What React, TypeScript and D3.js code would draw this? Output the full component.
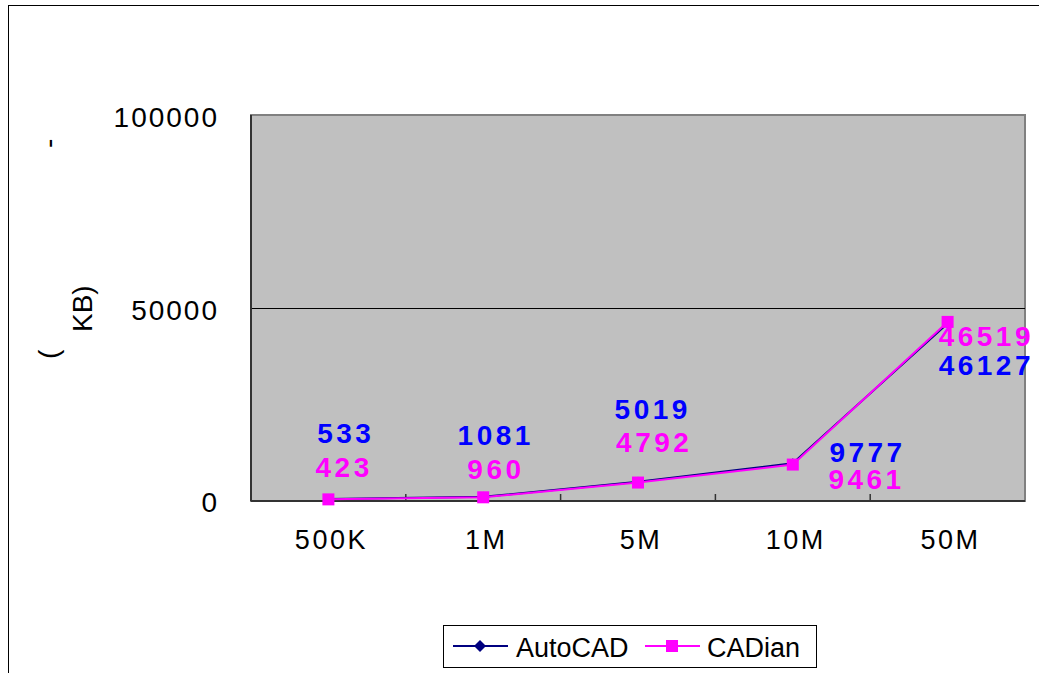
import React from "react";
import * as d3 from "d3";

const categories = ["500K", "1M", "5M", "10M", "50M"];
const autocadValues = [533, 1081, 5019, 9777, 46127];
const cadianValues = [423, 960, 4792, 9461, 46519];
const yTicks = [0, 50000, 100000];
const seriesNames = ["AutoCAD", "CADian"];

// label placement offsets relative to data point (dx, dy of baseline)
const autocadLabelOffsets: [number, number][] = [[15.6, -56], [10.8, -52], [13, -63], [73, -1.4], [37, 51.6]];
const cadianLabelOffsets: [number, number][] = [[14, -22], [11, -18], [14.5, -31], [72, 24], [37, 24]];

const W = 1039;
const H = 673;
const FONT = "'Liberation Sans', Arial, sans-serif";
const NAVY = "#000080";
const MAGENTA = "#FF00FF";
const BLUE = "#0000FF";

export default function App() {
  const plotL = 251, plotR = 1025, plotT = 115, plotB = 501;
  const x = d3.scaleBand<string>().domain(categories).range([plotL, plotR]).padding(0);
  const cx = (c: string) => (x(c) as number) + x.bandwidth() / 2;
  const y = d3.scaleLinear().domain([0, 100000]).range([plotB, 116]);

  const line = d3
    .line<number>()
    .x((_, i) => cx(categories[i]))
    .y((v) => y(v));

  const labelLS = 3.5;
  const labelFS = 28;
  const tickPositions = categories.slice(1).map((c) => x(c) as number);

  return (
    <svg width={W} height={H} style={{ position: "absolute", left: 0, top: 0, background: "#fff" }}>
      {/* outer chart frame */}
      <rect x={8.5} y={5.5} width={1200} height={1000} fill="#fff" stroke="#000" strokeWidth={1} />

      {/* plot area */}
      <rect x={plotL} y={plotT} width={plotR - plotL} height={plotB - plotT} fill="#C0C0C0" stroke="#808080" strokeWidth={2} />
      {/* gridline */}
      {yTicks
        .filter((t) => t !== 0 && t !== 100000)
        .map((t) => (
          <line key={t} x1={plotL} x2={plotR} y1={y(t)} y2={y(t)} stroke="#000" strokeWidth={1} />
        ))}
      {/* axes */}
      <line x1={plotL} x2={plotL} y1={plotT} y2={plotB} stroke="#333" strokeWidth={2} />
      <line x1={plotL} x2={plotR} y1={plotB} y2={plotB} stroke="#333" strokeWidth={2} />
      {tickPositions.map((p, i) => (
        <line key={i} x1={p} x2={p} y1={plotB} y2={plotB - 7} stroke="#333" strokeWidth={1.5} />
      ))}

      {/* y tick labels */}
      {yTicks.map((t) => (
        <text key={t} x={219} y={y(t) + 11} textAnchor="end" fontFamily={FONT} fontSize={28} letterSpacing={2} fill="#000">
          {t}
        </text>
      ))}

      {/* x labels */}
      {categories.map((c) => (
        <text key={c} x={cx(c) + 3} y={549} textAnchor="middle" fontFamily={FONT} fontSize={27} letterSpacing={2.5} fill="#000">
          {c}
        </text>
      ))}

      {/* y axis title fragments */}
      <text transform="translate(58,148) rotate(-90)" fontFamily={FONT} fontSize={28} fill="#000">-</text>
      <text transform="translate(58,359) rotate(-90)" fontFamily={FONT} fontSize={28} fill="#000">(</text>
      <text transform="translate(92,332) rotate(-90)" fontFamily={FONT} fontSize={28} fill="#000">KB)</text>

      {/* lines */}
      <path d={line(autocadValues) || ""} fill="none" stroke={NAVY} strokeWidth={2} />
      <path d={line(cadianValues) || ""} fill="none" stroke={MAGENTA} strokeWidth={2} />

      {/* markers */}
      {autocadValues.map((v, i) => {
        const px = cx(categories[i]);
        const py = y(v);
        return <path key={"a" + i} d={`M${px},${py - 5}L${px + 5},${py}L${px},${py + 5}L${px - 5},${py}Z`} fill={NAVY} />;
      })}
      {cadianValues.map((v, i) => {
        const px = cx(categories[i]);
        const py = y(v);
        return <rect key={"c" + i} x={px - 6} y={py - 6} width={12} height={12} fill={MAGENTA} />;
      })}

      {/* data labels */}
      {autocadValues.map((v, i) => (
        <text
          key={"al" + i}
          x={cx(categories[i]) + autocadLabelOffsets[i][0] + labelLS / 2}
          y={y(v) + autocadLabelOffsets[i][1]}
          textAnchor="middle"
          fontFamily={FONT}
          fontSize={labelFS}
          fontWeight="bold"
          letterSpacing={labelLS}
          fill={BLUE}
        >
          {v}
        </text>
      ))}
      {cadianValues.map((v, i) => (
        <text
          key={"cl" + i}
          x={cx(categories[i]) + cadianLabelOffsets[i][0] + labelLS / 2}
          y={y(v) + cadianLabelOffsets[i][1]}
          textAnchor="middle"
          fontFamily={FONT}
          fontSize={labelFS}
          fontWeight="bold"
          letterSpacing={labelLS}
          fill={MAGENTA}
        >
          {v}
        </text>
      ))}

      {/* legend */}
      <rect x={443.5} y={625.5} width={373} height={42} fill="#fff" stroke="#000" strokeWidth={1} />
      <line x1={453} x2={508} y1={646} y2={646} stroke={NAVY} strokeWidth={2} />
      <path d="M480,640L486,646L480,652L474,646Z" fill={NAVY} />
      <text x={516} y={657} fontFamily={FONT} fontSize={27} fill="#000">{seriesNames[0]}</text>
      <line x1={645} x2={700} y1={646} y2={646} stroke={MAGENTA} strokeWidth={2} />
      <rect x={666} y={640} width={12} height={12} fill={MAGENTA} />
      <text x={707} y={657} fontFamily={FONT} fontSize={27} fill="#000">{seriesNames[1]}</text>
    </svg>
  );
}
